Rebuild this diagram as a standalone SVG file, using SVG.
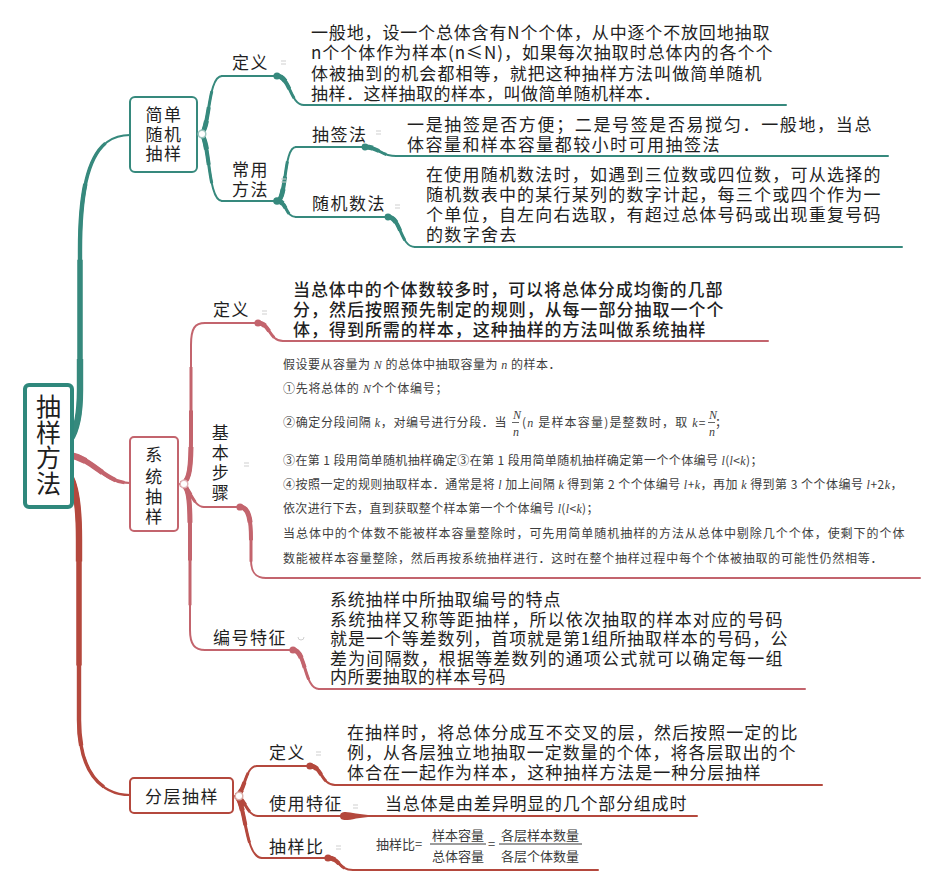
<svg xmlns="http://www.w3.org/2000/svg" xmlns:xlink="http://www.w3.org/1999/xlink" width="942" height="892" viewBox="0 0 942 892">
<style>
text { font-family: "Noto Sans CJK SC", "Noto Sans", sans-serif; fill: #1f1f1f; }
.lbl { font-size: 17px; letter-spacing: 1.5px; }
.d { font-size: 17px; letter-spacing: 1.6px; }
.s { font-size: 12px; fill: #3d3d3d; letter-spacing: 0.5px; }
.f { font-size: 13px; fill: #3a3a3a; }
.root { font-size: 25px; }
.i { font-family: "Liberation Serif", serif; font-style: italic; }
.teal { stroke: #36897d; fill: none; stroke-linejoin: round; }
.pink { stroke: #c3646d; fill: none; stroke-linejoin: round; }
.red { stroke: #b4483d; fill: none; stroke-linejoin: round; }
.w0 { stroke-width: 2; stroke-linecap: round; }
.w1 { stroke-width: 3; stroke-dasharray: 70 200; }
.w2 { stroke-width: 4; stroke-dasharray: 45 200; }
.w3 { stroke-width: 5; stroke-dasharray: 24 200; }
.k0 { stroke-width: 2.2; stroke-linecap: round; }
.k1 { stroke-width: 3.4; stroke-dasharray: 92 200; }
.k2 { stroke-width: 4.4; stroke-dasharray: 78 200; }
.k3 { stroke-width: 5.4; stroke-dasharray: 55 200; }
.k4 { stroke-width: 6.4; stroke-dasharray: 25 200; }
.u { stroke-width: 2; stroke-linecap: round; }
.box { fill: #ffffff; }
.jc { fill: #ffffff; stroke-width: 1.5; }
.mk { stroke: #cfcfcf; stroke-width: 1; fill: none; }
</style>
<defs>
<path id="t0" pathLength="100" d="M70,440 C77,430 80,415 80,390 L80,250 C80,170 95,135 130,135"/>
<path id="t1" pathLength="100" d="M200,134 C210,134 207,76 222,76"/>
<path id="t2" pathLength="100" d="M200,134 C210,134 207,201 222,201"/>
<path id="t3" pathLength="100" d="M277,76 C290,76 290,105 304,105"/>
<path id="t4" pathLength="100" d="M277,201 C287,201 283,147 296,147"/>
<path id="t5" pathLength="100" d="M277,201 C287,201 285,217 296,217"/>
<path id="t6" pathLength="100" d="M365,147 C378,147 381,156 396,156"/>
<path id="t7" pathLength="100" d="M388,217 C401,217 400,247 415,247"/>
<path id="p0" pathLength="100" d="M70,455 C95,460 105,483 130,483"/>
<path id="p1" pathLength="100" d="M180,484 C189,484 191,470 191,440 L191,345 C191,328 195,323 205,323"/>
<path id="p2" pathLength="100" d="M180,484 C190,485 192,507 204,507"/>
<path id="p3" pathLength="100" d="M180,484 C189,484 190,500 190,530 L190,630 C190,645 195,650 205,650"/>
<path id="p4" pathLength="100" d="M258,323 C270,323 269,341 283,341"/>
<path id="p5" pathLength="100" d="M240,507 C249,507 251,520 251,540 L251,560 C251,572 255,578 266,578"/>
<path id="p6" pathLength="100" d="M293,650 C306,650 304,689 319,689"/>
<path id="r0" pathLength="100" d="M70,476 C77,488 79,510 79,540 L79,720 C79,770 100,795 130,795"/>
<path id="r1" pathLength="100" d="M235,796 C245,796 244,766 257,766"/>
<path id="r2" pathLength="100" d="M235,796 C245,796 246,816 258,816"/>
<path id="r3" pathLength="100" d="M235,796 C246,798 244,858 262,858"/>
<path id="r4" pathLength="100" d="M310,766 C322,766 321,785 335,785"/>
<path id="r5" pathLength="100" d="M328,858 C340,858 338,870 353,870"/>
</defs>
<rect width="942" height="892" fill="#ffffff"/>

<g id="connectors">
  <g class="teal">
    <use xlink:href="#t0" class="k0"/><use xlink:href="#t0" class="k1"/><use xlink:href="#t0" class="k2"/><use xlink:href="#t0" class="k3"/><use xlink:href="#t0" class="k4"/>
    <use xlink:href="#t1" class="w0"/><use xlink:href="#t1" class="w1"/><use xlink:href="#t1" class="w2"/><use xlink:href="#t1" class="w3"/>
    <use xlink:href="#t2" class="w0"/><use xlink:href="#t2" class="w1"/><use xlink:href="#t2" class="w2"/><use xlink:href="#t2" class="w3"/>
    <use xlink:href="#t3" class="w0"/><use xlink:href="#t3" class="w1"/><use xlink:href="#t3" class="w2"/><use xlink:href="#t3" class="w3"/>
    <use xlink:href="#t4" class="w0"/><use xlink:href="#t4" class="w1"/><use xlink:href="#t4" class="w2"/><use xlink:href="#t4" class="w3"/>
    <use xlink:href="#t5" class="w0"/><use xlink:href="#t5" class="w1"/><use xlink:href="#t5" class="w2"/><use xlink:href="#t5" class="w3"/>
    <use xlink:href="#t6" class="w0"/><use xlink:href="#t6" class="w1"/><use xlink:href="#t6" class="w2"/><use xlink:href="#t6" class="w3"/>
    <use xlink:href="#t7" class="w0"/><use xlink:href="#t7" class="w1"/><use xlink:href="#t7" class="w2"/><use xlink:href="#t7" class="w3"/>
    <line class="u" x1="222" y1="76" x2="277" y2="76"/>
    <line class="u" x1="222" y1="201" x2="277" y2="201"/>
    <line class="u" x1="304" y1="105" x2="786" y2="105"/>
    <line class="u" x1="296" y1="147" x2="365" y2="147"/>
    <line class="u" x1="296" y1="217" x2="388" y2="217"/>
    <line class="u" x1="396" y1="156" x2="888" y2="156"/>
    <line class="u" x1="415" y1="247" x2="902" y2="247"/>
  </g>
  <g fill="#36897d">
    <circle cx="277" cy="76" r="3.6"/><circle cx="277" cy="201" r="3.8"/>
    <circle cx="365" cy="147" r="3.4"/><circle cx="388" cy="217" r="3.4"/>
  </g>
  <g class="pink">
    <use xlink:href="#p0" class="k0"/><use xlink:href="#p0" class="k1"/><use xlink:href="#p0" class="k2"/><use xlink:href="#p0" class="k3"/><use xlink:href="#p0" class="k4"/>
    <use xlink:href="#p1" class="w0"/><use xlink:href="#p1" class="w1"/><use xlink:href="#p1" class="w2"/><use xlink:href="#p1" class="w3"/>
    <use xlink:href="#p2" class="w0"/><use xlink:href="#p2" class="w1"/><use xlink:href="#p2" class="w2"/><use xlink:href="#p2" class="w3"/>
    <use xlink:href="#p3" class="w0"/><use xlink:href="#p3" class="w1"/><use xlink:href="#p3" class="w2"/><use xlink:href="#p3" class="w3"/>
    <use xlink:href="#p4" class="w0"/><use xlink:href="#p4" class="w1"/><use xlink:href="#p4" class="w2"/><use xlink:href="#p4" class="w3"/>
    <use xlink:href="#p5" class="w0"/><use xlink:href="#p5" class="w1"/><use xlink:href="#p5" class="w2"/><use xlink:href="#p5" class="w3"/>
    <use xlink:href="#p6" class="w0"/><use xlink:href="#p6" class="w1"/><use xlink:href="#p6" class="w2"/><use xlink:href="#p6" class="w3"/>
    <line class="u" x1="205" y1="323" x2="258" y2="323"/>
    <line class="u" x1="204" y1="507" x2="240" y2="507"/>
    <line class="u" x1="205" y1="650" x2="293" y2="650"/>
    <line class="u" x1="283" y1="341" x2="768" y2="341"/>
    <line class="u" x1="266" y1="578" x2="920" y2="578"/>
    <line class="u" x1="319" y1="689" x2="805" y2="689"/>
  </g>
  <g fill="#c3646d">
    <circle cx="258" cy="323" r="3.6"/><circle cx="240" cy="507" r="3.6"/><circle cx="293" cy="650" r="3.6"/>
  </g>
  <g class="red">
    <use xlink:href="#r0" class="k0"/><use xlink:href="#r0" class="k1"/><use xlink:href="#r0" class="k2"/><use xlink:href="#r0" class="k3"/><use xlink:href="#r0" class="k4"/>
    <use xlink:href="#r1" class="w0"/><use xlink:href="#r1" class="w1"/><use xlink:href="#r1" class="w2"/><use xlink:href="#r1" class="w3"/>
    <use xlink:href="#r2" class="w0"/><use xlink:href="#r2" class="w1"/><use xlink:href="#r2" class="w2"/><use xlink:href="#r2" class="w3"/>
    <use xlink:href="#r3" class="w0"/><use xlink:href="#r3" class="w1"/><use xlink:href="#r3" class="w2"/><use xlink:href="#r3" class="w3"/>
    <use xlink:href="#r4" class="w0"/><use xlink:href="#r4" class="w1"/><use xlink:href="#r4" class="w2"/><use xlink:href="#r4" class="w3"/>
    <use xlink:href="#r5" class="w0"/><use xlink:href="#r5" class="w1"/><use xlink:href="#r5" class="w2"/><use xlink:href="#r5" class="w3"/>
    <line class="u" x1="257" y1="766" x2="310" y2="766"/>
    <line class="u" x1="258" y1="816" x2="697" y2="816"/>
    <line class="u" x1="262" y1="858" x2="328" y2="858"/>
    <line class="u" x1="335" y1="785" x2="822" y2="785"/>
    <line class="u" x1="353" y1="870" x2="598" y2="870"/>
  </g>
  <g fill="#b4483d">
    <circle cx="310" cy="766" r="3.6"/><circle cx="328" cy="858" r="3.6"/>
    <path d="M340,816 C340,810.5 347,811.5 356,813.6 L376,816 L356,818.4 C347,820.5 340,821.5 340,816 Z"/>
  </g>
</g>

<g id="collapse-marks">
  <path class="mk" d="M281,61 h5 M281,64 h5"/>
  <path class="mk" d="M281,179 h5 M281,182 h5"/>
  <path class="mk" d="M376,131 h5 M376,134 h5"/>
  <path class="mk" d="M395,205 h5 M395,208 h5"/>
  <path class="mk" d="M262,311 h5 M262,314 h5"/>
  <path class="mk" d="M244,463 h5 M244,466 h5"/>
  <path class="mk" d="M298,637 a3,3 0 0 0 6,0"/>
  <path class="mk" d="M316,752 h5 M316,755 h5"/>
  <path class="mk" d="M353,805 h5 M353,808 h5"/>
  <path class="mk" d="M336,846 h5 M336,849 h5"/>
</g>

<g id="root">
  <rect x="25" y="385" width="47" height="122" rx="4" class="box" stroke="#2f887c" stroke-width="4"/>
  <text class="root" text-anchor="middle"><tspan x="48.5" y="416">抽</tspan><tspan x="48.5" y="442">样</tspan><tspan x="48.5" y="467">方</tspan><tspan x="48.5" y="493">法</tspan></text>
</g>

<g id="n-simple">
  <rect x="130" y="97" width="67" height="75" rx="5" class="box" stroke="#36897d" stroke-width="2"/>
  <text class="lbl" text-anchor="middle"><tspan x="164" y="121">简单</tspan><tspan x="164" y="141">随机</tspan><tspan x="164" y="160">抽样</tspan></text>
  <circle cx="202" cy="134" r="3.8" class="jc" stroke="#9fc7c0"/>
</g>
<g id="n-simple-def">
  <text class="lbl" x="232" y="69">定义</text>
  <text class="d"><tspan x="311" y="39" textLength="460" lengthAdjust="spacing">一般地，设一个总体含有N个个体，从中逐个不放回地抽取</tspan><tspan x="311" y="59" textLength="463" lengthAdjust="spacing">n个个体作为样本(n≤N)，如果每次抽取时总体内的各个个</tspan><tspan x="311" y="80" textLength="452" lengthAdjust="spacing">体被抽到的机会都相等，就把这种抽样方法叫做简单随机</tspan><tspan x="311" y="100" textLength="351" lengthAdjust="spacing">抽样．这样抽取的样本，叫做简单随机样本．</tspan></text>
</g>
<g id="n-simple-methods">
  <text class="lbl"><tspan x="232" y="176">常用</tspan><tspan x="232" y="196">方法</tspan></text>
</g>
<g id="n-lottery">
  <text class="lbl" x="312" y="141">抽签法</text>
  <text class="d"><tspan x="407" y="131" textLength="466" lengthAdjust="spacing">一是抽签是否方便；二是号签是否易搅匀．一般地，当总</tspan><tspan x="407" y="151" textLength="314" lengthAdjust="spacing">体容量和样本容量都较小时可用抽签法</tspan></text>
</g>
<g id="n-random">
  <text class="lbl" x="312" y="210">随机数法</text>
  <text class="d"><tspan x="426" y="181" textLength="456" lengthAdjust="spacing">在使用随机数法时，如遇到三位数或四位数，可从选择的</tspan><tspan x="426" y="201" textLength="456" lengthAdjust="spacing">随机数表中的某行某列的数字计起，每三个或四个作为一</tspan><tspan x="426" y="221" textLength="456" lengthAdjust="spacing">个单位，自左向右选取，有超过总体号码或出现重复号码</tspan><tspan x="426" y="241" textLength="92" lengthAdjust="spacing">的数字舍去</tspan></text>
</g>

<g id="n-system">
  <rect x="130" y="437" width="48" height="94" rx="4" class="box" stroke="#c3646d" stroke-width="2"/>
  <text class="lbl" text-anchor="middle"><tspan x="154.5" y="461">系</tspan><tspan x="154.5" y="483">统</tspan><tspan x="154.5" y="503">抽</tspan><tspan x="154.5" y="523">样</tspan></text>
  <circle cx="184" cy="484" r="3.8" class="jc" stroke="#e2b5b9"/>
</g>
<g id="n-system-def">
  <text class="lbl" x="213" y="316">定义</text>
  <text class="d" font-weight="500"><tspan x="293" y="296" textLength="431" lengthAdjust="spacing">当总体中的个体数较多时，可以将总体分成均衡的几部</tspan><tspan x="293" y="316" textLength="432" lengthAdjust="spacing">分，然后按照预先制定的规则，从每一部分抽取一个个</tspan><tspan x="293" y="336" textLength="414" lengthAdjust="spacing">体，得到所需的样本，这种抽样的方法叫做系统抽样</tspan></text>
</g>
<g id="n-system-steps">
  <text class="lbl" text-anchor="middle"><tspan x="221" y="439">基</tspan><tspan x="221" y="459">本</tspan><tspan x="221" y="479">步</tspan><tspan x="221" y="499">骤</tspan></text>
  <text class="s" x="283" y="369" textLength="278" lengthAdjust="spacing">假设要从容量为 <tspan class="i">N</tspan> 的总体中抽取容量为 <tspan class="i">n</tspan> 的样本．</text>
  <text class="s" x="283" y="393" textLength="165" lengthAdjust="spacing">①先将总体的 <tspan class="i">N</tspan>个个体编号；</text>
  <text class="s" x="283" y="427" textLength="224" lengthAdjust="spacing">②确定分段间隔 <tspan class="i">k</tspan>，对编号进行分段．当</text>
  <text class="s i" x="513" y="419" font-size="10">N</text>
  <line x1="512" y1="422.5" x2="519" y2="422.5" stroke="#3d3d3d" stroke-width="0.8"/>
  <text class="s i" x="513" y="436" font-size="10">n</text>
  <text class="s" x="522" y="427" textLength="184" lengthAdjust="spacing">(<tspan class="i">n</tspan> 是样本容量)是整数时，取 <tspan class="i">k</tspan>=</text>
  <text class="s i" x="709" y="419" font-size="10">N</text>
  <line x1="708" y1="422.5" x2="715" y2="422.5" stroke="#3d3d3d" stroke-width="0.8"/>
  <text class="s i" x="709" y="436" font-size="10">n</text>
  <text class="s" x="715" y="427">；</text>
  <text class="s" x="283" y="465" textLength="480" lengthAdjust="spacing">③在第 1 段用简单随机抽样确定③在第 1 段用简单随机抽样确定第一个个体编号 <tspan class="i">l</tspan>(<tspan class="i">l</tspan>&lt;<tspan class="i">k</tspan>)；</text>
  <text class="s" x="283" y="489" textLength="620" lengthAdjust="spacing">④按照一定的规则抽取样本．通常是将 <tspan class="i">l</tspan> 加上间隔 <tspan class="i">k</tspan> 得到第 2 个个体编号 <tspan class="i">l</tspan>+<tspan class="i">k</tspan>，再加 <tspan class="i">k</tspan> 得到第 3 个个体编号 <tspan class="i">l</tspan>+2<tspan class="i">k</tspan>，</text>
  <text class="s" x="283" y="513" textLength="316" lengthAdjust="spacing">依次进行下去，直到获取整个样本第一个个体编号 <tspan class="i">l</tspan>(<tspan class="i">l</tspan>&lt;<tspan class="i">k</tspan>)；</text>
  <text class="s" x="283" y="538" textLength="622" lengthAdjust="spacing">当总体中的个体数不能被样本容量整除时，可先用简单随机抽样的方法从总体中剔除几个个体，使剩下的个体</text>
  <text class="s" x="283" y="563" textLength="600" lengthAdjust="spacing">数能被样本容量整除，然后再按系统抽样进行．这时在整个抽样过程中每个个体被抽取的可能性仍然相等．</text>
</g>
<g id="n-system-number">
  <text class="lbl" x="213" y="644">编号特征</text>
  <text class="d"><tspan x="330" y="606" textLength="232" lengthAdjust="spacing">系统抽样中所抽取编号的特点</tspan><tspan x="330" y="626" textLength="454" lengthAdjust="spacing">系统抽样又称等距抽样，所以依次抽取的样本对应的号码</tspan><tspan x="330" y="645" textLength="459" lengthAdjust="spacing">就是一个等差数列，首项就是第1组所抽取样本的号码，公</tspan><tspan x="330" y="665" textLength="454" lengthAdjust="spacing">差为间隔数，根据等差数列的通项公式就可以确定每一组</tspan><tspan x="330" y="683" textLength="177" lengthAdjust="spacing">内所要抽取的样本号码</tspan></text>
</g>

<g id="n-strat">
  <rect x="130" y="778" width="103" height="35" rx="4" class="box" stroke="#b4483d" stroke-width="2"/>
  <text class="lbl" x="182" y="803" text-anchor="middle">分层抽样</text>
  <circle cx="239" cy="796" r="3.8" class="jc" stroke="#dcb0aa"/>
</g>
<g id="n-strat-def">
  <text class="lbl" x="269" y="759">定义</text>
  <text class="d"><tspan x="347" y="739" textLength="452" lengthAdjust="spacing">在抽样时，将总体分成互不交叉的层，然后按照一定的比</tspan><tspan x="347" y="759" textLength="450" lengthAdjust="spacing">例，从各层独立地抽取一定数量的个体，将各层取出的个</tspan><tspan x="347" y="779" textLength="415" lengthAdjust="spacing">体合在一起作为样本，这种抽样方法是一种分层抽样</tspan></text>
</g>
<g id="n-strat-use">
  <text class="lbl" x="269" y="810">使用特征</text>
  <text class="d" x="385" y="810" textLength="303" lengthAdjust="spacing">当总体是由差异明显的几个部分组成时</text>
</g>
<g id="n-strat-ratio">
  <text class="lbl" x="269" y="853">抽样比</text>
  <text class="f" x="376" y="849">抽样比=</text>
  <text class="f" text-anchor="middle"><tspan x="458" y="840">样本容量</tspan><tspan x="458" y="861">总体容量</tspan></text>
  <line x1="430" y1="844" x2="486" y2="844" stroke="#3a3a3a" stroke-width="1"/>
  <text class="f" x="488" y="849">=</text>
  <text class="f" text-anchor="middle"><tspan x="540" y="840">各层样本数量</tspan><tspan x="540" y="861">各层个体数量</tspan></text>
  <line x1="499" y1="844" x2="582" y2="844" stroke="#3a3a3a" stroke-width="1"/>
</g>
</svg>
